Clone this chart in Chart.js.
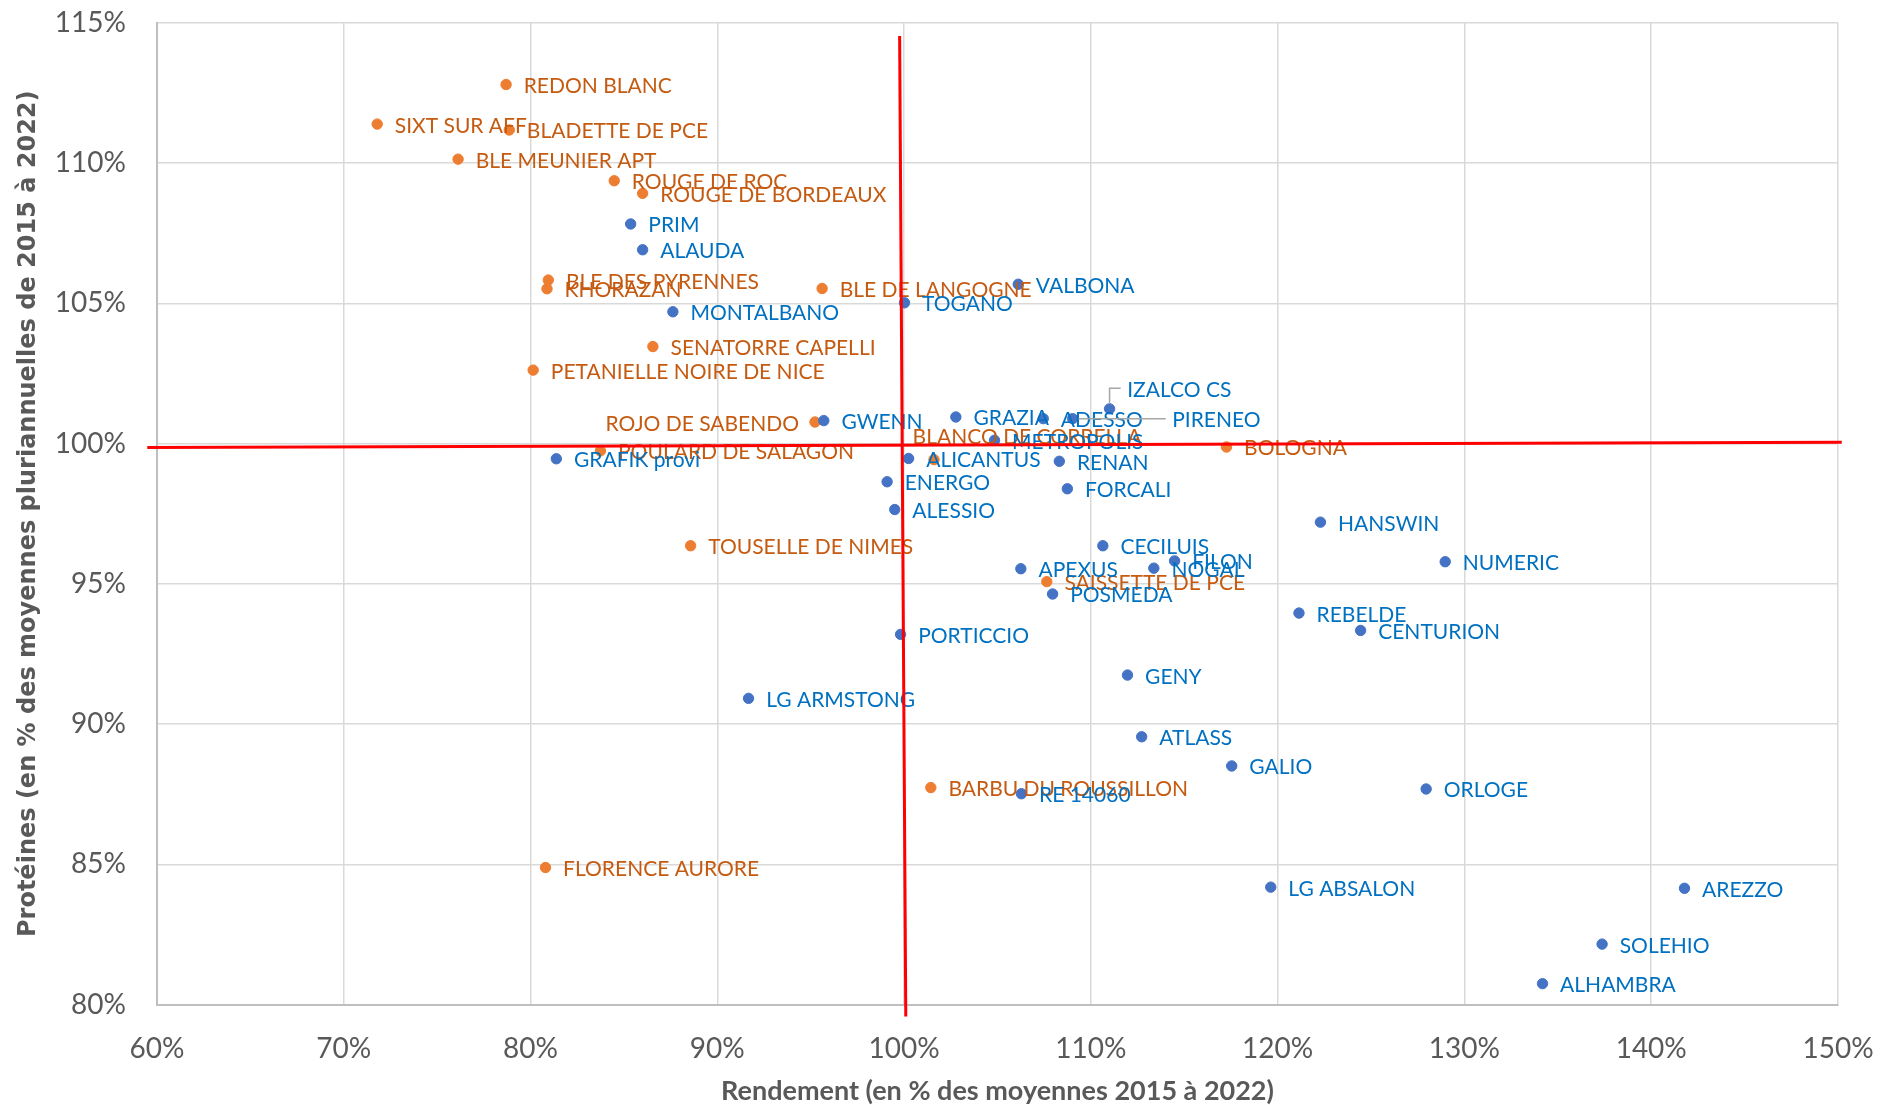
<!DOCTYPE html>
<html lang="fr">
<head>
<meta charset="utf-8">
<title>Protéines vs Rendement</title>
<script src="https://cdn.jsdelivr.net/npm/chart.js@4/dist/chart.umd.min.js"></script>
<style>
  html, body { margin: 0; padding: 0; background: #ffffff; }
  #wrap { width: 1880px; height: 1105px; }
  canvas { display: block; }
</style>
</head>
<body>
<div id="wrap"><canvas id="c" width="1880" height="1105"></canvas></div>
<script>
// ---------------- DATA ----------------
// Variétés anciennes (orange)
const oldNames = ["REDON BLANC","SIXT SUR AFF","BLADETTE DE PCE","BLE MEUNIER APT","ROUGE DE ROC",
  "ROUGE DE BORDEAUX","BLE DES PYRENNES","KHORAZAN","BLE DE LANGOGNE","SENATORRE CAPELLI",
  "PETANIELLE NOIRE DE NICE","ROJO DE SABENDO","BLANCO DE CORRELLA","POULARD DE SALAGON","BOLOGNA",
  "TOUSELLE DE NIMES","SAISSETTE DE PCE","BARBU DU ROUSSILLON","FLORENCE AURORE"];
const oldYield = [78.69, 71.79, 78.86, 76.12, 84.48, 86.0, 80.95, 80.88, 95.61, 86.55,
  80.14, 95.23, 101.6, 83.74, 117.26, 88.57, 107.64, 101.43, 80.80];
const oldProt = [112.80, 111.39, 111.18, 110.14, 109.37, 108.92, 105.83, 105.52, 105.53, 103.46,
  102.62, 100.77, 99.43, 99.74, 99.88, 96.36, 95.08, 87.74, 84.89];

// Variétés modernes (bleu)
const modNames = ["PRIM","ALAUDA","MONTALBANO","TOGANO","VALBONA","IZALCO CS","GRAZIA","ADESSO","PIRENEO",
  "GWENN","METROPOLIS","ALICANTUS","RENAN","GRAFIK provi","ENERGO","FORCALI","ALESSIO","HANSWIN",
  "CECILUIS","FILON","APEXUS","NOGAL","NUMERIC","POSMEDA","REBELDE","CENTURION","PORTICCIO","GENY",
  "LG ARMSTONG","ATLASS","GALIO","RE 14060","ORLOGE","LG ABSALON","AREZZO","SOLEHIO","ALHAMBRA"];
const modYield = [85.36, 86.0, 87.62, 100.02, 106.11, 111.0, 102.77, 107.45, 109.02,
  95.70, 104.84, 100.24, 108.31, 81.38, 99.09, 108.74, 99.5, 122.29,
  110.64, 114.48, 106.25, 113.37, 128.97, 107.95, 121.14, 124.44, 99.81, 111.96,
  91.67, 112.72, 117.54, 106.28, 127.95, 119.63, 141.78, 137.37, 134.18];
const modProt = [107.83, 106.91, 104.70, 105.02, 105.68, 101.24, 100.95, 100.89, 100.89,
  100.82, 100.12, 99.47, 99.37, 99.46, 98.64, 98.39, 97.65, 97.20,
  96.36, 95.82, 95.54, 95.56, 95.79, 94.64, 93.96, 93.34, 93.20, 91.75,
  90.92, 89.55, 88.51, 87.52, 87.69, 84.19, 84.15, 82.16, 80.75];

// Lignes de référence (100 %) tracées à la main sur l'original
const refHx = [59.48, 150.2];
const refHy = [99.86, 100.05];
const refVx = [99.76, 100.09];
const refVy = [114.53, 79.58];

// Axes
const xTickLabels = ["60%","70%","80%","90%","100%","110%","120%","130%","140%","150%"];
const yTickLabels = ["80%","85%","90%","95%","100%","105%","110%","115%"];
const xTitle = "Rendement (en % des moyennes 2015 à 2022)";
const yTitle = "Protéines (en % des moyennes pluriannuelles de 2015 à 2022)";

// ---------------- STYLE ----------------
const ORANGE = "#ED7D31", ORANGE_TXT = "#C55A11";
const BLUE = "#4472C4", BLUE_TXT = "#0070C0";
const GREY_TXT = "#595959";
// label placement tweaks (pixel offsets relative to the default right-of-point placement)
const labelTweaks = {
  "BLANCO DE CORRELLA": { dx: -39, dy: -24 },
  "ROJO DE SABENDO": { align: "right" },
  "IZALCO CS": { dx: 0, dy: -20.5, leader: true },
  "PIRENEO": { dx: 82, dy: 0, leader: true }
};

const toPts = (xs, ys) => xs.map((x, i) => ({ x: x, y: ys[i] }));

const labelPlugin = {
  id: "pointLabels",
  afterDatasetDraw(chart, args) {
    if (args.index !== 1) return;
    const ctx = chart.ctx;
    ctx.save();
    ctx.font = "21px Lato";
    ctx.textBaseline = "alphabetic";
    const groups = [[0, oldNames, ORANGE_TXT], [1, modNames, BLUE_TXT]];
    groups.forEach(([di, names, color]) => {
      const meta = chart.getDatasetMeta(di);
      meta.data.forEach((pt, i) => {
        const name = names[i];
        const t = labelTweaks[name] || {};
        const px = pt.x, py = pt.y;
        let lx, ly = py + (t.dy || 0);
        if (t.align === "right") {
          lx = px - 16;
          ctx.textAlign = "right";
        } else {
          lx = px + 17.6 + (t.dx || 0);
          ctx.textAlign = "left";
        }
        if (t.leader) {
          ctx.strokeStyle = "#A6A6A6";
          ctx.lineWidth = 1.5;
          ctx.beginPath();
          if (Math.abs(ly - py) > 1) {
            ctx.moveTo(px, py - 6);
            ctx.lineTo(px, ly);
          } else {
            ctx.moveTo(px + 6, py);
          }
          ctx.lineTo(lx - 6.5, ly);
          ctx.stroke();
        }
        ctx.fillStyle = color;
        ctx.fillText(name, lx, ly + 8.5);
      });
    });
    ctx.restore();
  }
};

function build() {
  const ctx = document.getElementById("c").getContext("2d");
  new Chart(ctx, {
    type: "scatter",
    data: {
      datasets: [
        { label: "Anciennes", data: toPts(oldYield, oldProt), backgroundColor: ORANGE, borderColor: ORANGE,
          pointRadius: 5.2, pointBorderWidth: 1, order: 3 },
        { label: "Modernes", data: toPts(modYield, modProt), backgroundColor: BLUE, borderColor: BLUE,
          pointRadius: 5.2, pointBorderWidth: 1, order: 2 },
        { type: "line", label: "ref100h", data: toPts(refHx, refHy), borderColor: "#FF0000", borderWidth: 3,
          pointRadius: 0, fill: false, clip: false, order: 1 },
        { type: "line", label: "ref100v", data: toPts(refVx, refVy), borderColor: "#FF0000", borderWidth: 3,
          pointRadius: 0, fill: false, clip: false, order: 0 }
      ]
    },
    options: {
      responsive: false,
      animation: false,
      devicePixelRatio: 1,
      layout: { autoPadding: false, padding: { top: 22.8, right: 42, left: 0, bottom: 0 } },
      plugins: { legend: { display: false }, tooltip: { enabled: false } },
      scales: {
        x: {
          type: "linear", min: 60, max: 150,
          ticks: {
            stepSize: 10, autoSkip: false, maxRotation: 0, padding: 27.5,
            color: GREY_TXT, font: { family: "Lato", size: 28 },
            callback: (v, i) => xTickLabels[i]
          },
          grid: { color: "#D9D9D9", lineWidth: 1.5, drawTicks: false },
          border: { display: true, color: "#BFBFBF", width: 2 },
          title: { display: true, text: xTitle, color: GREY_TXT,
            font: { family: "Lato", size: 27, weight: "bold", lineHeight: 1.0 },
            padding: { top: 0, bottom: 0.5 } },
          afterFit: s => { s.height = 100.3; s.paddingLeft = 0; s.paddingRight = 0; }
        },
        y: {
          type: "linear", min: 80, max: 115,
          ticks: {
            stepSize: 5, autoSkip: false, padding: 31,
            color: GREY_TXT, font: { family: "Lato", size: 28 },
            callback: (v, i) => yTickLabels[i]
          },
          grid: { color: "#D9D9D9", lineWidth: 1.5, drawTicks: false },
          border: { display: true, color: "#BFBFBF", width: 2 },
          title: { display: true, text: yTitle, color: GREY_TXT,
            font: { family: "DejaVu Sans", size: 24, weight: "bold", lineHeight: 1.2 },
            padding: { top: 14.6, bottom: 0 } },
          afterFit: s => { s.width = 157; s.paddingTop = 0; s.paddingBottom = 0; }
        }
      }
    },
    plugins: [labelPlugin]
  });
}

const fontLoads = [
  document.fonts.load("21px Lato"),
  document.fonts.load("28px Lato"),
  document.fonts.load("bold 27px Lato"),
  document.fonts.load("bold 24px 'DejaVu Sans'")
];
Promise.race([Promise.all(fontLoads), new Promise(r => setTimeout(r, 800))]).then(build, build);
</script>
</body>
</html>
